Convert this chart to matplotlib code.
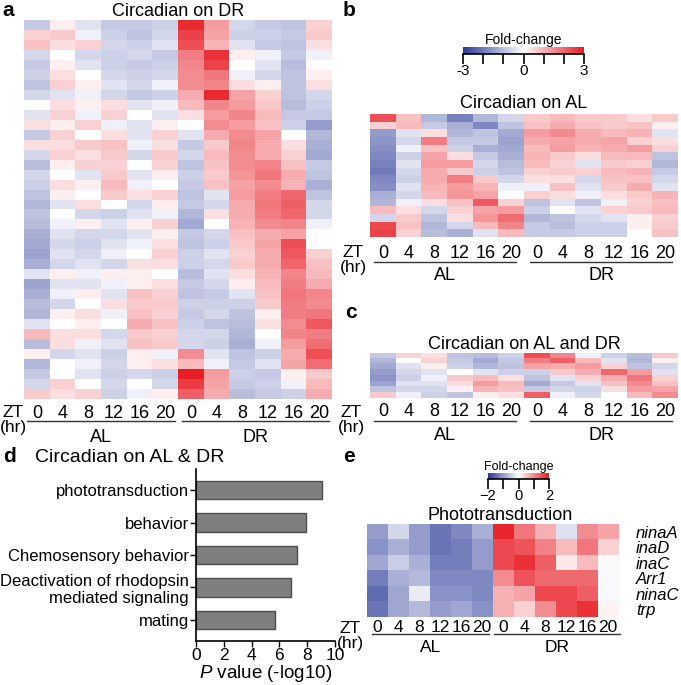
import numpy as np
import matplotlib
matplotlib.use("Agg")
import matplotlib.pyplot as plt
from matplotlib.colors import LinearSegmentedColormap
from matplotlib.transforms import blended_transform_factory

plt.rcParams["font.family"] = ["Liberation Sans", "DejaVu Sans"]
plt.rcParams["mathtext.fontset"] = "custom"
plt.rcParams["mathtext.it"] = "Liberation Sans:italic"
plt.rcParams["mathtext.rm"] = "Liberation Sans"

# ---- data ----
zt_labels = ["0", "4", "8", "12", "16", "20"] * 2

# panel a: circadian on DR (rows = gene groups, cols = AL0..AL20, DR0..DR20)
dr_rows = [
    [-0.8, 0.2, -0.4, -0.8, -0.8, -0.7, 2.8, 1.3, -0.6, -0.8, -0.9, 0.6],
    [0.6, 0.7, -0.2, -0.7, -0.9, -0.6, 2.5, 1.2, -0.7, -0.7, -0.8, 0.7],
    [0.8, 0.4, 0.6, -0.6, -0.7, -0.4, 2.3, 1.0, -0.4, -0.8, -0.9, 0.4],
    [-0.6, 0.0, -0.6, -0.7, -0.6, -0.8, 1.7, 2.7, 0.2, -0.2, -0.8, -0.2],
    [-0.8, 0.2, -0.4, -0.7, -0.8, -0.7, 1.6, 2.5, 0.0, -0.4, -1.0, 0.0],
    [-0.7, 0.4, 0.0, -0.6, -0.7, -0.6, 1.5, 1.8, -0.2, -0.6, -0.9, 0.2],
    [-0.9, 0.6, 0.2, -0.4, -0.6, -0.2, 1.5, 1.6, 0.4, 0.2, -0.9, 0.4],
    [-0.6, -0.4, -0.2, -0.6, -0.8, -0.7, 1.1, 2.8, 1.2, 0.6, -0.9, -0.6],
    [0.0, 0.4, 0.2, 0.4, -0.4, -0.2, 0.9, 1.6, 1.3, 0.7, -1.0, -0.7],
    [-0.4, 0.6, -0.2, 0.6, 0.0, -0.4, 0.4, 1.3, 1.6, 0.9, -0.8, -0.8],
    [0.4, 0.2, 0.6, -0.2, -0.4, 0.2, 0.0, 1.5, 1.3, 0.8, -0.7, -1.5],
    [-0.8, 0.6, 0.0, 0.4, -0.4, 0.6, -0.4, 1.1, 1.5, 1.2, 0.0, -1.1],
    [0.4, 0.4, 0.7, 0.8, -0.2, 0.4, -0.8, 0.7, 1.6, 1.1, 0.4, -1.2],
    [-0.6, 0.6, 0.4, 0.7, -0.6, 0.7, -0.6, 0.9, 1.5, 1.1, 0.6, -1.3],
    [-1.0, 0.2, 0.6, 0.6, 0.0, 0.6, -0.9, 0.8, 1.5, 1.6, 0.8, -0.8],
    [-0.6, 0.0, -0.4, 0.7, -0.4, 0.2, -0.7, 0.7, 1.4, 1.8, 1.1, -0.9],
    [-0.7, 0.4, 0.2, 0.9, -0.2, 0.0, -0.8, 0.8, 1.2, 1.5, 1.0, -1.2],
    [-0.9, 0.2, 0.0, 0.7, 0.4, 0.6, -0.9, -0.4, 1.3, 1.7, 2.0, -0.9],
    [-1.1, -0.4, 0.4, 0.0, -0.6, 0.2, -0.8, -0.6, 1.1, 1.8, 2.1, -0.6],
    [-0.9, 0.0, -0.6, -0.7, -0.4, -0.2, -1.1, 0.4, 1.1, 1.7, 2.0, -0.6],
    [-1.0, -0.2, 0.2, -0.4, 0.2, 0.6, -1.3, 0.0, 1.0, 1.5, 1.6, -0.2],
    [-1.2, -0.4, -0.6, -0.6, -0.4, 0.2, -0.8, -0.6, 0.8, 1.1, 1.2, 0.0],
    [-1.3, -0.6, -0.7, -0.4, -0.2, 0.4, -0.9, -0.7, 0.7, 1.2, 2.3, 0.0],
    [-1.4, -0.4, -0.6, -0.2, 0.0, 0.6, -0.7, -0.4, 0.6, 1.1, 2.2, 0.6],
    [-1.2, -0.6, -0.4, -0.6, 0.4, 0.4, -0.7, -0.6, 0.7, 1.1, 2.0, 0.8],
    [-0.4, 0.2, -0.2, 0.2, 0.2, 0.0, -1.0, -0.4, 0.4, 1.0, 1.6, 0.9],
    [-1.4, -0.4, -0.4, -0.2, 0.2, 0.4, -0.8, -0.6, 0.2, 0.9, 1.7, 1.1],
    [-1.2, -0.2, 0.2, -0.4, 0.8, 0.6, -0.9, -0.8, -0.4, 0.8, 1.8, 1.6],
    [-1.0, -0.6, 0.0, 0.4, 0.7, 0.7, -0.7, -0.7, -0.7, 0.7, 1.7, 1.5],
    [-1.1, 0.2, 0.4, -0.2, 0.8, 0.6, -0.8, -0.6, -0.9, 0.2, 1.7, 1.8],
    [-0.4, 0.0, 0.2, 0.0, 1.1, 0.8, -0.7, -0.9, -1.0, 0.4, 1.5, 2.2],
    [0.9, 0.4, 0.4, -0.6, 0.7, 0.6, -0.6, -0.6, -1.1, 0.0, 1.6, 1.7],
    [-1.0, 0.4, -0.2, -0.4, 0.8, 0.7, -0.6, -0.7, -1.2, -0.2, 1.3, 1.9],
    [0.2, -0.6, -0.4, -0.7, 0.2, -0.2, 1.5, -0.4, -0.9, -0.7, 1.1, 2.3],
    [-1.1, 0.0, -0.2, -0.6, 0.2, 0.4, 0.9, -0.2, -0.8, -0.4, 1.2, 1.9],
    [-0.8, 0.0, -0.4, -0.7, -0.6, -0.7, 3.0, 1.3, -0.7, -0.8, 0.2, 0.7],
    [-0.6, 0.6, 0.0, -0.6, 0.0, -0.6, 2.6, 1.2, -0.8, -0.7, -0.2, 0.9],
    [0.7, 0.4, 0.6, -0.7, -0.2, 0.2, 2.1, 1.1, -1.0, -0.8, -0.7, 1.1],
]

# panel b: circadian on AL
al_rows = [
    [2.3, 0.8, -1.1, -1.9, -1.1, -0.6, 0.7, 0.9, 0.7, 0.7, 0.4, 0.7],
    [0.6, 0.9, -0.8, -1.2, -1.8, -0.9, 0.8, 1.1, 0.8, 0.7, 0.8, 0.2],
    [-1.5, -0.4, 0.4, -1.1, -0.9, -1.3, 1.3, 1.5, 1.1, 0.9, 1.0, -0.4],
    [-1.6, -0.6, 1.7, -0.8, -0.8, -1.4, 1.1, 1.2, 1.1, 1.2, 0.6, 0.4],
    [-1.7, -0.2, 0.8, -0.7, -1.2, -1.3, 0.9, 1.3, 1.0, 1.1, 1.3, 0.6],
    [-1.8, -0.7, 1.2, 0.4, -0.8, -1.2, 1.0, 0.7, 0.4, 0.9, 0.9, -0.9],
    [-1.9, -0.4, 1.3, 1.3, -0.6, -1.0, 0.9, 0.6, -0.4, 0.7, 0.6, -1.1],
    [-2.0, -0.6, 1.1, 0.7, -0.7, -0.9, 0.6, 0.7, 0.6, 0.9, 1.0, -0.8],
    [-1.8, -0.7, 1.1, 1.7, 0.7, -0.6, 0.4, 0.4, -0.6, 0.8, 0.8, -0.6],
    [-1.7, -0.4, 1.0, 1.3, 1.0, -0.2, -0.2, 0.8, -0.4, 0.7, 1.1, -0.4],
    [-1.2, -0.6, 0.9, 1.4, 1.2, 0.0, 0.6, 0.4, -0.2, 0.4, 0.7, 1.0],
    [-1.1, -0.2, 0.4, 0.8, 2.2, 0.6, -0.9, -0.4, -0.9, -0.2, 0.6, 0.8],
    [0.9, 0.4, -0.6, 0.6, 1.2, 1.3, -0.7, 0.0, -0.4, 0.6, 0.7, 0.9],
    [-0.6, 0.7, -0.9, 0.4, 1.4, 1.9, -1.1, -0.9, -0.6, -0.4, 0.2, 0.6],
    [2.4, 0.8, -1.1, -0.6, 0.9, 1.6, -0.8, -1.0, -0.7, -0.7, 0.2, 0.7],
    [2.5, 0.6, -1.0, -1.2, -0.4, 0.9, -0.8, -0.8, -0.7, -0.7, 0.0, 0.8],
]

# panel c: circadian on AL and DR
both_rows = [
    [-0.8, 0.6, 0.4, -0.9, -1.0, -0.7, 2.3, 1.6, -0.2, -0.7, -1.0, 0.7],
    [-1.1, 0.0, 0.6, -0.8, -1.3, -0.8, 1.7, 2.1, 0.9, -0.4, -1.1, 0.2],
    [-1.3, -0.4, 0.2, -0.7, -1.1, -0.9, 1.2, 1.1, 1.3, 0.6, -0.9, -0.6],
    [-1.5, -0.6, -0.4, 0.0, -0.4, -0.7, -0.7, 0.7, 1.1, 2.0, 1.3, -0.4],
    [-1.6, -0.7, -0.2, 0.7, 0.9, 0.4, -0.9, -0.4, 0.6, 1.1, 1.8, 0.6],
    [-1.4, -0.4, -0.4, 0.4, 1.3, 0.9, -1.3, -0.8, -0.4, 0.8, 1.5, 0.8],
    [-0.9, -0.6, -0.6, 0.2, 1.0, 0.8, -0.8, -0.6, -0.7, 0.4, 1.3, 1.2],
    [0.7, -0.2, -0.7, -0.9, 0.2, 0.4, 2.1, -0.2, -0.6, 0.0, 0.9, 1.5],
]

# panel d: enrichment
terms = ["phototransduction", "behavior", "Chemosensory behavior",
         "Deactivation of rhodopsin\nmediated signaling", "mating"]
pvals = [9.05, 7.9, 7.3, 6.85, 5.7]

# panel e: phototransduction genes
genes = ["ninaA", "inaD", "inaC", "Arr1", "ninaC", "trp"]
photo_rows = [
    [-1.0, -0.4, -1.0, -1.4, -1.2, -0.8, 1.9, 1.2, 0.7, -0.3, 1.0, 0.8],
    [-1.1, -0.8, -1.0, -1.4, -1.3, -1.0, 1.6, 1.5, 1.1, 0.6, 1.2, 0.4],
    [-0.9, -0.5, -0.8, -1.3, -1.3, -1.0, 1.6, 1.8, 1.4, 0.2, 0.6, -0.05],
    [-1.3, -0.8, -0.7, -1.2, -1.2, -1.2, 1.0, 1.5, 1.3, 1.3, 1.3, -0.05],
    [-1.5, -0.9, -0.2, -1.1, -1.1, -1.2, 0.7, 0.8, 1.6, 1.6, 1.4, -0.05],
    [-1.4, -0.9, -0.7, -1.0, -0.9, -1.1, 0.7, 0.4, 1.0, 1.6, 1.8, 0.1],
]

W, H = 681, 685
fc_cmap = LinearSegmentedColormap.from_list("fc", ["#2b3a98", "#ffffff", "#e81c24"])


def px_axes(fig, x0, y0, x1, y1):
    return fig.add_axes([x0 / W, 1 - y1 / H, (x1 - x0) / W, (y1 - y0) / H])


def fig_text(fig, x, y, s, **kw):
    fig.text(x / W, 1 - y / H, s, **kw)


def heatmap(ax, rows, vmax):
    ax.imshow(np.array(rows), cmap=fc_cmap, vmin=-vmax, vmax=vmax,
              aspect="auto", interpolation="nearest")
    ax.set_xticks([])
    ax.set_yticks([])
    for s in ax.spines.values():
        s.set_visible(False)


def zt_axis(ax, tick_dy, line_dy, grp_dy, al_span, dr_span, size=13):
    h = ax.get_position().height * H
    tr = blended_transform_factory(ax.transData, ax.transAxes)
    for i, lab in enumerate(zt_labels):
        ax.text(i, -tick_dy / h, lab, transform=tr, ha="center", va="center",
                fontsize=size)
    for span, name in [(al_span, "AL"), (dr_span, "DR")]:
        ax.plot(span, [-line_dy / h] * 2, transform=tr, color="#333333",
                lw=1.0, clip_on=False)
        ax.text(sum(span) / 2, -grp_dy / h, name, transform=tr, ha="center",
                va="center", fontsize=size)


def colorbar(fig, box, vmax, ticks, labels, title, title_size, lab_size):
    cax = px_axes(fig, *box)
    grad = np.linspace(-vmax, vmax, 256)[None, :]
    cax.imshow(grad, cmap=fc_cmap, vmin=-vmax, vmax=vmax, aspect="auto",
               extent=[-vmax, vmax, 0, 1])
    cax.set_yticks([])
    cax.set_xticks(ticks)
    cax.set_xticklabels(labels, fontsize=lab_size)
    cax.tick_params(axis="x", length=7, width=1.2, pad=0)
    for s in ["top", "left", "right"]:
        cax.spines[s].set_visible(False)
    cax.spines["bottom"].set_linewidth(1.2)
    cax.set_title(title, fontsize=title_size, pad=1)


fig = plt.figure(figsize=(W / 100, H / 100), dpi=100)

# ---- a ----
ax_a = px_axes(fig, 24, 20, 332, 399)
heatmap(ax_a, dr_rows, 3)
ax_a.set_title("Circadian on DR", fontsize=13, pad=1)
zt_axis(ax_a, 14, 22, 38, [-0.4, 5.4], [5.65, 11.4])
fig_text(fig, 13, 420, "ZT\n(hr)", ha="center", va="center", fontsize=12.5,
         linespacing=0.95)
fig_text(fig, 2, 11, "a", fontsize=15, fontweight="bold", va="center")

# ---- b ----
fig_text(fig, 343, 11, "b", fontsize=15, fontweight="bold", va="center")
colorbar(fig, (463, 47, 584, 54), 3, [-3, -2, -1, 0, 1, 2, 3],
         ["-3", "", "", "0", "", "", "3"], "Fold-change", 10, 11)
ax_b = px_axes(fig, 370, 114, 678, 237)
heatmap(ax_b, al_rows, 3)
ax_b.set_title("Circadian on AL", fontsize=13, pad=4)
zt_axis(ax_b, 16, 25, 38, [-0.35, 5.2], [5.75, 11.25])
fig_text(fig, 353, 260, "ZT\n(hr)", ha="center", va="center", fontsize=12.5,
         linespacing=0.95)

# ---- c ----
fig_text(fig, 345, 313, "c", fontsize=15, fontweight="bold", va="center")
ax_c = px_axes(fig, 370, 353, 678, 398)
heatmap(ax_c, both_rows, 3)
ax_c.set_title("Circadian on AL and DR", fontsize=13, pad=3)
zt_axis(ax_c, 14, 23, 38, [-0.35, 5.2], [5.75, 11.25])
fig_text(fig, 351, 420, "ZT\n(hr)", ha="center", va="center", fontsize=12.5,
         linespacing=0.95)

# ---- d ----
fig_text(fig, 3, 457, "d", fontsize=15, fontweight="bold", va="center")
fig_text(fig, 35, 457, "Circadian on AL & DR", fontsize=14, va="center")
ax_d = px_axes(fig, 196, 469, 335, 641)
ypos = np.arange(len(terms))
ax_d.barh(ypos, pvals, height=0.56, color="#7f7f7f", edgecolor="#4d4d4d",
          linewidth=1.0)
ax_d.set_xlim(0, 10)
ax_d.set_ylim(len(terms) - 1 + 0.65, -0.65)
ax_d.set_yticks(ypos)
ax_d.set_yticklabels(terms, fontsize=12, ha="right", multialignment="right")
ax_d.set_xticks(range(0, 11, 2))
ax_d.tick_params(axis="x", labelsize=12.5, length=4, width=1, pad=1)
ax_d.tick_params(axis="y", length=4, width=1, pad=1)
for s in ["top", "right"]:
    ax_d.spines[s].set_visible(False)
for s in ["left", "bottom"]:
    ax_d.spines[s].set_linewidth(1.2)
ax_d.set_xlabel("$P$ value (-log10)", fontsize=13.5, labelpad=0)

# ---- e ----
fig_text(fig, 343, 457, "e", fontsize=15, fontweight="bold", va="center")
colorbar(fig, (488, 473, 549, 479), 2, [-2, -1, 0, 1, 2],
         ["\u22122", "", "0", "", "2"], "Fold-change", 9, 10.5)
ax_e = px_axes(fig, 367, 524, 633, 617)
heatmap(ax_e, photo_rows, 2)
ax_e.set_title("Phototransduction", fontsize=13, pad=2)
ax_e.yaxis.tick_right()
ax_e.set_yticks(range(len(genes)))
ax_e.set_yticklabels(genes, fontsize=12, style="italic")
ax_e.tick_params(axis="y", length=0, pad=2)
zt_axis(ax_e, 11, 17, 30, [-0.25, 5.35], [5.55, 11.6], size=12.5)
fig_text(fig, 350, 636, "ZT\n(hr)", ha="center", va="center", fontsize=12.5,
         linespacing=0.95)

fig.savefig("out.png", dpi=100)
